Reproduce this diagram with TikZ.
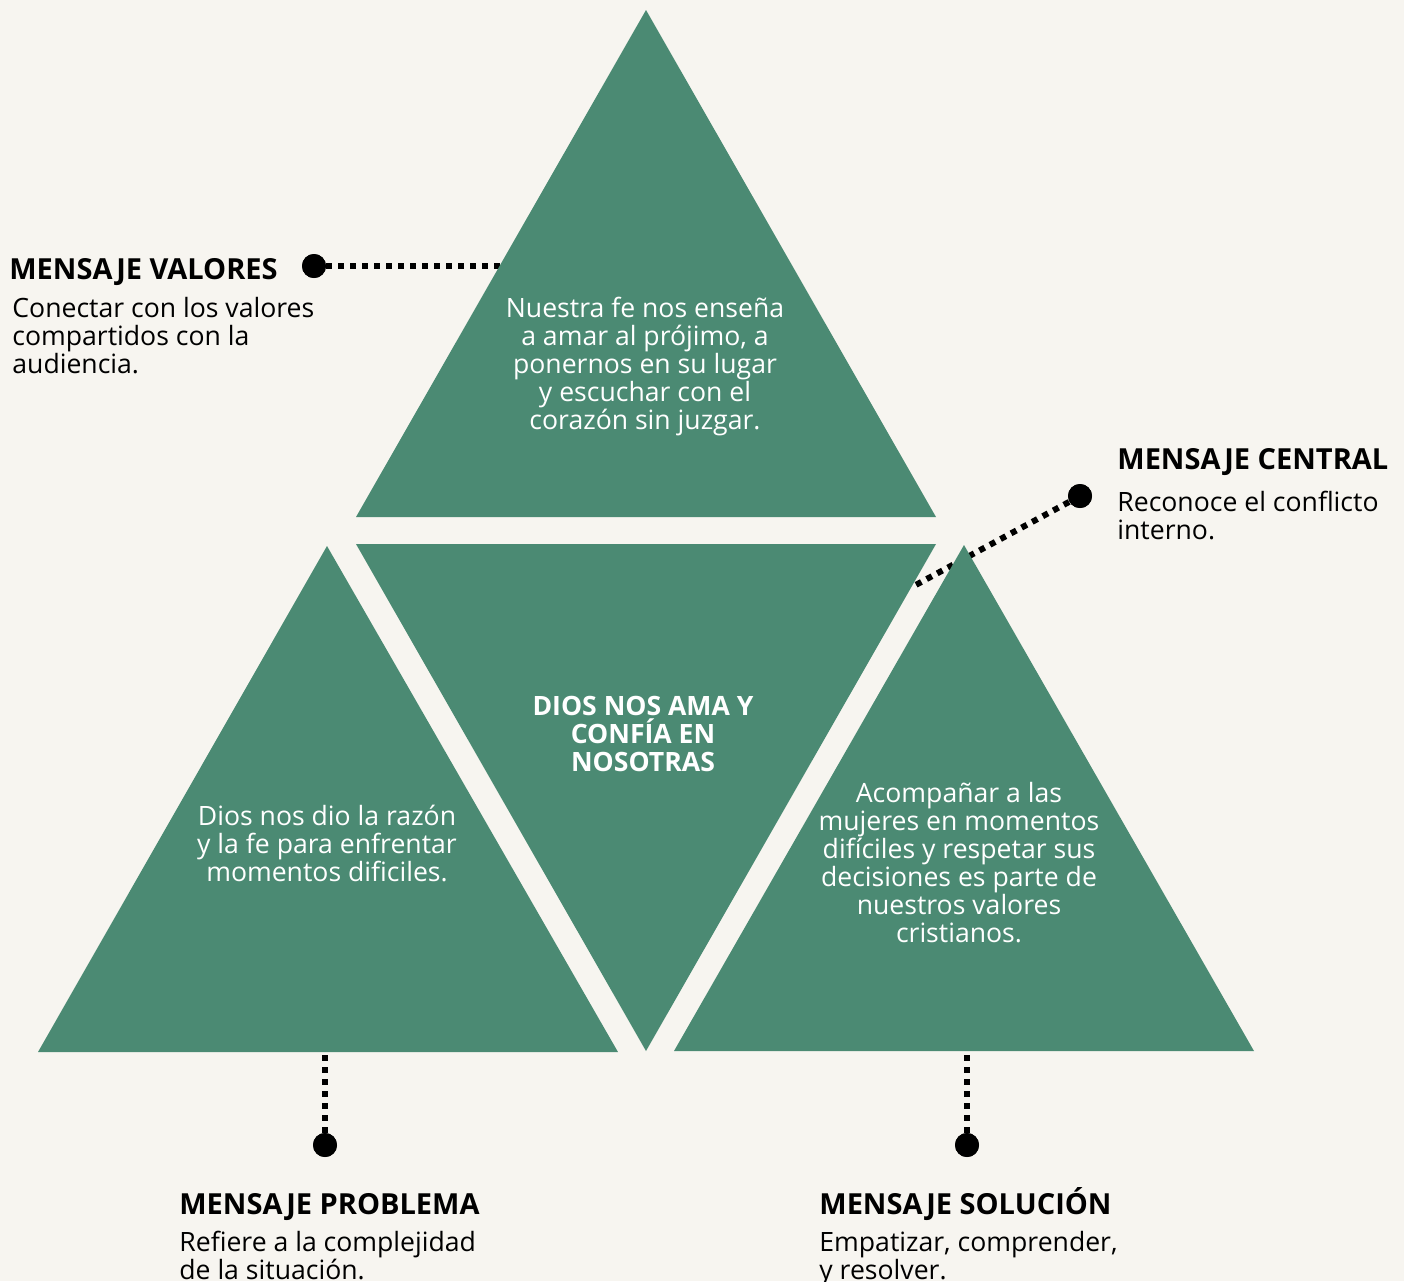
\documentclass[tikz,border=0pt]{standalone}
\usepackage{fontspec}
\setmainfont{Open Sans}
\definecolor{bgc}{HTML}{F7F5F0}
\definecolor{trigreen}{HTML}{4B8A73}
\begin{document}
\begin{tikzpicture}[x=0.5pt,y=-0.5pt,
  trishape/.style={fill=trigreen},
  conn/.style={line width=3pt, dash pattern=on 3pt off 3pt},
  dotnode/.style={circle,fill=black,minimum size=12pt,inner sep=0pt},
  head/.style={anchor=base west,inner sep=0pt,font=\bfseries\fontsize{14.5}{16}\selectfont},
  desc/.style={anchor=north west,inner sep=0pt,align=left,font=\fontsize{13.3}{14}\selectfont},
  intext/.style={anchor=north,inner sep=0pt,align=center,text=white,font=\fontsize{13.3}{14}\selectfont}]
\fill[bgc] (0,0) rectangle (1404,1281);
\useasboundingbox (0,0) rectangle (1404,1281);

% triangle vertices
\coordinate (tA) at (646,10);   \coordinate (tL) at (356,517);  \coordinate (tR) at (936,517);
\coordinate (mL) at (356,544);  \coordinate (mR) at (936,544);  \coordinate (mB) at (646,1051);
\coordinate (lA) at (327,546);  \coordinate (lL) at (38,1052);  \coordinate (lR) at (618,1052);
\coordinate (rA) at (964,545);  \coordinate (rL) at (674,1051); \coordinate (rR) at (1254,1051);

% connector end points on the triangles
\coordinate (eV) at (500,266);
\coordinate (eC) at (912,587);
\coordinate (eP) at (325,1055);
\coordinate (eS) at (967,1055);

% dots
\node[dotnode] (dV) at (314,266) {};
\node[dotnode] (dC) at (1080,496) {};
\node[dotnode] (dP) at (325,1145) {};
\node[dotnode] (dS) at (967,1145) {};

% connectors (behind triangles)
\draw[conn] (dV) -- (eV);
\draw[conn] (dC) -- (eC);
\draw[conn] (eP) -- (dP);
\draw[conn] (eS) -- (dS);

% triangles
\fill[trishape] (tA) -- (tL) -- (tR) -- cycle;
\fill[trishape] (mL) -- (mR) -- (mB) -- cycle;
\fill[trishape] (lA) -- (lL) -- (lR) -- cycle;
\fill[trishape] (rA) -- (rL) -- (rR) -- cycle;

% redraw dots on top
\node[dotnode] at (dV) {};
\node[dotnode] at (dC) {};
\node[dotnode] at (dP) {};
\node[dotnode] at (dS) {};

% triangle texts
\node[intext] (txtTop) at (645,297) {Nuestra fe nos enseña\\a amar al prójimo, a\\ponernos en su lugar\\y escuchar con el\\corazón sin juzgar.};
\node[intext,font=\bfseries\fontsize{13.3}{14}\selectfont] (txtMid) at (643,696) {DIOS NOS AMA Y\\CONFÍA EN\\NOSOTRAS};
\node[intext] (txtLeft) at (327,805) {Dios nos dio la razón\\y la fe para enfrentar\\momentos dificiles.};
\node[intext] (txtRight) at (959,782) {Acompañar a las\\mujeres en momentos\\difíciles y respetar sus\\decisiones es parte de\\nuestros valores\\cristianos.};

% labels
\node[head] (hV) at (9,279) {MENSAJE VALORES};
\node[desc] (dsV) at (12,297) {Conectar con los valores\\compartidos con la\\audiencia.};
\node[head] (hC) at (1117,469) {MENSAJE CENTRAL};
\node[desc] (dsC) at (1117,491) {Reconoce el conflicto\\interno.};
\node[head] (hP) at (179,1214) {MENSAJE PROBLEMA};
\node[desc] (dsP) at (179,1231) {Refiere a la complejidad\\de la situación.};
\node[head] (hS) at (819,1214) {MENSAJE SOLUCIÓN};
\node[desc] (dsS) at (819,1231) {Empatizar, comprender,\\y resolver.};
\end{tikzpicture}
\end{document}
